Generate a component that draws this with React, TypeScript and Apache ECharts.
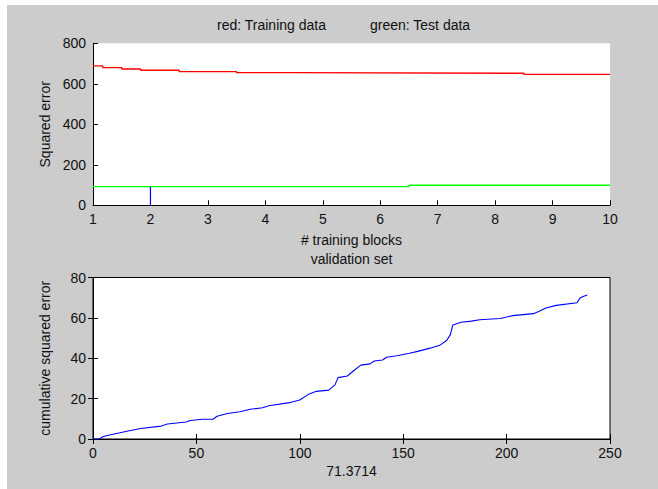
import React, { useEffect, useRef } from "react";
import * as echarts from "echarts";

// Top panel: squared error vs # training blocks
const trainX = [1, 1.17, 1.5, 1.83, 2.5, 3.5, 4.5, 8.5, 10];
const trainY = [689, 680, 673, 667, 660, 655, 652, 647, 647];
const testX = [1, 6.5, 10];
const testY = [92, 99, 99];
const markX = [2, 2];
const markY = [0, 92];

// Bottom panel: cumulative squared error over validation set
const cumX = [0, 3, 5, 8, 17, 23, 33, 36, 45, 47, 53, 58, 60, 65, 71, 76, 82, 85, 95, 100, 104, 108, 114, 117, 118.5, 123, 126, 129.5, 134, 136, 140, 142, 147, 153, 157, 163, 168, 171, 172.8, 174, 178, 183, 187, 197, 203, 213, 215.5, 219, 224, 234, 235.5, 237, 239];
const cumY = [0, 0, 1.2, 2, 4, 5.2, 6.4, 7.4, 8.4, 9.2, 9.8, 9.8, 11.3, 12.6, 13.5, 14.7, 15.5, 16.5, 18, 19.3, 22, 23.6, 24.2, 26.8, 30.4, 31.2, 33.8, 36.6, 37.2, 38.6, 39.1, 40.5, 41.2, 42.5, 43.4, 45, 46.6, 48.8, 51.7, 56.5, 57.8, 58.4, 59.1, 59.7, 61.1, 62.1, 63.2, 64.9, 66.2, 67.5, 69.8, 70.6, 71.37];

const titleLeft = "red: Training data";
const titleRight = "green: Test data";
const topXName = "# training blocks";
const topYName = "Squared error";
const bottomTitle = "validation set";
const bottomXName = "71.3714";
const bottomYName = "cumulative squared error";

const zip = (xs: number[], ys: number[]) => xs.map((x, i) => [x, ys[i]]);

export default function App() {
  const ref = useRef<HTMLDivElement>(null);
  useEffect(() => {
    if (!ref.current) return;
    const chart = echarts.init(ref.current, null, { renderer: "svg" });
    const font = "'Liberation Sans', Arial, sans-serif";
    const txt = { color: "#111", fontFamily: font, fontSize: 14, fontWeight: "normal" as const };
    const axLine = { show: true, lineStyle: { color: "#000", width: 1 } };
    const tick = { show: true, inside: true, length: 5, lineStyle: { color: "#000" } };
    const lab = { ...txt, margin: 7 };
    chart.setOption({
      animation: false,
      backgroundColor: "#cccccc",
      title: [
        { text: titleLeft, left: 210, top: 13, padding: 0, textStyle: txt },
        { text: titleRight, left: 363, top: 13, padding: 0, textStyle: txt },
        { text: bottomTitle, left: 344.5, textAlign: "center", top: 247, padding: 0, textStyle: txt },
      ],
      grid: [
        { left: 86, top: 38.3, width: 517, height: 162, show: true, backgroundColor: "#fff", borderWidth: 0 },
        { left: 86, top: 272.5, width: 517, height: 161.5, show: true, backgroundColor: "#fff", borderColor: "#000", borderWidth: 1 },
      ],
      xAxis: [
        {
          gridIndex: 0, type: "value", min: 1, max: 10, interval: 1,
          name: topXName, nameLocation: "middle", nameGap: 28, nameTextStyle: txt,
          axisLine: axLine, axisTick: tick, axisLabel: lab, splitLine: { show: false },
        },
        {
          gridIndex: 1, type: "value", min: 0, max: 250, interval: 50,
          name: bottomXName, nameLocation: "middle", nameGap: 25, nameTextStyle: txt,
          axisLine: axLine, axisTick: tick, axisLabel: lab, splitLine: { show: false },
        },
        {
          gridIndex: 1, type: "value", position: "top", min: 0, max: 250, interval: 50,
          axisLine: axLine, axisTick: tick, axisLabel: { show: false }, splitLine: { show: false },
        },
      ],
      yAxis: [
        {
          gridIndex: 0, type: "value", min: 0, max: 800, interval: 200,
          name: topYName, nameLocation: "middle", nameGap: 41, nameTextStyle: txt,
          axisLine: axLine, axisTick: tick, axisLabel: lab, splitLine: { show: false },
        },
        {
          gridIndex: 1, type: "value", min: 0, max: 80, interval: 20,
          name: bottomYName, nameLocation: "middle", nameGap: 41, nameTextStyle: txt,
          axisLine: axLine, axisTick: tick, axisLabel: lab, splitLine: { show: false },
        },
        {
          gridIndex: 1, type: "value", position: "right", min: 0, max: 80, interval: 20,
          axisLine: axLine, axisTick: tick, axisLabel: { show: false }, splitLine: { show: false },
        },
      ],
      series: [
        {
          type: "line", xAxisIndex: 0, yAxisIndex: 0, step: "end", symbol: "none",
          data: zip(trainX, trainY), lineStyle: { color: "#ff0000", width: 1.3 }, itemStyle: { color: "#ff0000" },
        },
        {
          type: "line", xAxisIndex: 0, yAxisIndex: 0, step: "end", symbol: "none",
          data: zip(testX, testY), lineStyle: { color: "#00ff00", width: 1.3 }, itemStyle: { color: "#00ff00" },
        },
        {
          type: "line", xAxisIndex: 0, yAxisIndex: 0, symbol: "none",
          data: zip(markX, markY), lineStyle: { color: "#0000ff", width: 1.2 }, itemStyle: { color: "#0000ff" },
        },
        {
          type: "line", xAxisIndex: 1, yAxisIndex: 1, symbol: "none",
          data: zip(cumX, cumY), lineStyle: { color: "#0000ff", width: 1.1 }, itemStyle: { color: "#0000ff" },
        },
      ],
    });
    return () => chart.dispose();
  }, []);
  return (
    <div style={{ position: "fixed", left: 0, top: 0, width: 658, height: 489, background: "#fff" }}>
      <div ref={ref} style={{ position: "absolute", left: 7, top: 5, width: 651, height: 484 }} />
    </div>
  );
}
